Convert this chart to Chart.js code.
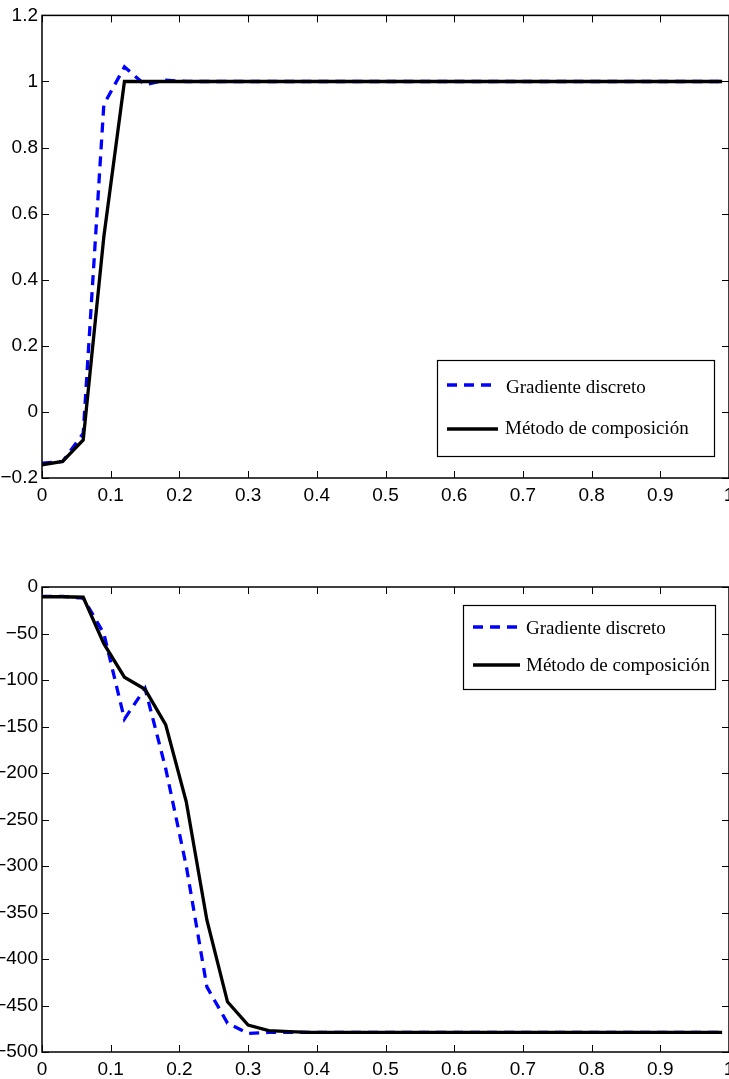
<!DOCTYPE html>
<html>
<head>
<meta charset="utf-8">
<title>Gradiente discreto vs Método de composición</title>
<script src="https://cdn.jsdelivr.net/npm/chart.js@4.4.0/dist/chart.umd.min.js"></script>
<style>
  html, body { margin: 0; padding: 0; background: #fff; overflow: hidden; width: 729px; height: 1079px; }
  canvas { position: absolute; left: 0; }
  #topChart { top: 0; }
  #bottomChart { top: 540px; }
  svg.legend { position: absolute; left: 0; top: 0; overflow: visible; }
  svg.legend text { font-family: "Liberation Serif", "Times New Roman", serif; font-size: 19px; fill: #000; }
</style>
</head>
<body>
<canvas id="topChart" width="780" height="540"></canvas>
<canvas id="bottomChart" width="780" height="539"></canvas>

<svg class="legend" width="729" height="1079">
  <rect x="437.5" y="360.5" width="277" height="96" fill="#fff" stroke="#000" stroke-width="1.2"></rect>
  <line x1="447" y1="385" x2="496" y2="385" stroke="#0000ff" stroke-width="3.3" stroke-dasharray="10 7"></line>
  <text x="506" y="393">Gradiente discreto</text>
  <line x1="447" y1="429" x2="498" y2="429" stroke="#000" stroke-width="3.3"></line>
  <text x="505" y="434">Método de composición</text>

  <rect x="463.5" y="605.5" width="252" height="84" fill="#fff" stroke="#000" stroke-width="1.2"></rect>
  <line x1="473" y1="627" x2="520" y2="627" stroke="#0000ff" stroke-width="3.3" stroke-dasharray="10 7"></line>
  <text x="526" y="634">Gradiente discreto</text>
  <line x1="473" y1="665" x2="520" y2="665" stroke="#000" stroke-width="3.3"></line>
  <text x="526" y="671">Método de composición</text>
</svg>

<script>
// x values shared by both plots
const xs = [0, 0.03, 0.06, 0.09, 0.12, 0.15, 0.18, 0.21, 0.24, 0.27, 0.30, 0.33,
  0.36, 0.39, 0.42, 0.45, 0.48, 0.51, 0.54, 0.57, 0.60, 0.63, 0.66, 0.69,
  0.72, 0.75, 0.78, 0.81, 0.84, 0.87, 0.90, 0.93, 0.96, 0.99];

// upper plot
const topGradiente = [-0.155, -0.15, -0.065, 0.93, 1.044, 0.99, 1.004, 1.0, 1.0, 1.0, 1.0, 1.0,
  1.0, 1.0, 1.0, 1.0, 1.0, 1.0, 1.0, 1.0, 1.0, 1.0, 1.0, 1.0,
  1.0, 1.0, 1.0, 1.0, 1.0, 1.0, 1.0, 1.0, 1.0, 1.0];
const topComposicion = [-0.16, -0.15, -0.085, 0.53, 1.0, 1.0, 1.0, 1.0, 1.0, 1.0, 1.0, 1.0,
  1.0, 1.0, 1.0, 1.0, 1.0, 1.0, 1.0, 1.0, 1.0, 1.0, 1.0, 1.0,
  1.0, 1.0, 1.0, 1.0, 1.0, 1.0, 1.0, 1.0, 1.0, 1.0];

// lower plot
const bottomGradiente = [-10, -10, -12, -50, -142, -109, -195, -300, -430, -469, -480, -479,
  -479, -479, -479, -479, -479, -479, -479, -479, -479, -479, -479, -479,
  -479, -479, -479, -479, -479, -479, -479, -479, -479, -479];
const bottomComposicion = [-10.5, -10.5, -11, -61, -97, -110, -148, -231, -358, -446, -471, -477,
  -478, -479, -479, -479, -479, -479, -479, -479, -479, -479, -479, -479,
  -479, -479, -479, -479, -479, -479, -479, -479, -479, -479];

// tick labels
const xTickLabels = ["0", "0.1", "0.2", "0.3", "0.4", "0.5", "0.6", "0.7", "0.8", "0.9", "1"];
const topYTickLabels = ["\u22120.2", "0", "0.2", "0.4", "0.6", "0.8", "1", "1.2"];
const bottomYTickLabels = ["\u2212500", "\u2212450", "\u2212400", "\u2212350", "\u2212300", "\u2212250",
  "\u2212200", "\u2212150", "\u2212100", "\u221250", "0"];

const tickFont = { family: '"Liberation Sans Narrow", "Liberation Sans", Arial, sans-serif', size: 19 };

const toPoints = function (ys) {
  return xs.map((x, i) => ({ x: x, y: ys[i] }));
};

// matlab style box with inward ticks on all four sides
const boxTicks = {
  id: "boxTicks",
  afterDraw(chart) {
    const ctx = chart.ctx;
    const a = chart.chartArea;
    const len = 7;
    ctx.save();
    ctx.strokeStyle = "#000";
    ctx.lineWidth = 1;
    for (let i = 0; i < chart.scales.x.ticks.length; i++) {
      const px = Math.round(chart.scales.x.getPixelForTick(i)) + 0.5;
      ctx.beginPath();
      ctx.moveTo(px, a.bottom); ctx.lineTo(px, a.bottom - len);
      ctx.moveTo(px, a.top); ctx.lineTo(px, a.top + len);
      ctx.stroke();
    }
    for (let i = 0; i < chart.scales.y.ticks.length; i++) {
      const py = Math.round(chart.scales.y.getPixelForTick(i)) + 0.5;
      ctx.beginPath();
      ctx.moveTo(a.left, py); ctx.lineTo(a.left + len, py);
      ctx.moveTo(a.right, py); ctx.lineTo(a.right - len, py);
      ctx.stroke();
    }
    ctx.lineWidth = 1.5;
    ctx.strokeRect(a.left, a.top, a.right - a.left, a.bottom - a.top);
    ctx.restore();
  }
};

const makeChart = function (id, gradiente, composicion, yMin, yMax, yStep, yLabels, pad, xHeight) {
  const ctx = document.getElementById(id).getContext("2d");
  return new Chart(ctx, {
    type: "line",
    data: {
      datasets: [
        {
          label: "Gradiente discreto",
          data: toPoints(gradiente),
          borderColor: "#0000ff",
          borderWidth: 3.3,
          borderDash: [10, 7],
          pointRadius: 0,
          tension: 0,
          fill: false,
          order: 2
        },
        {
          label: "Método de composición",
          data: toPoints(composicion),
          borderColor: "#000000",
          borderWidth: 3.3,
          borderJoinStyle: "miter",
          pointRadius: 0,
          tension: 0,
          fill: false,
          order: 1
        }
      ]
    },
    options: {
      responsive: false,
      animation: false,
      layout: { padding: pad },
      plugins: { legend: { display: false }, tooltip: { enabled: false } },
      scales: {
        x: {
          type: "linear",
          min: 0,
          max: 1,
          grid: { display: false, drawTicks: false },
          border: { display: false },
          ticks: {
            stepSize: 0.1,
            padding: 6,
            color: "#000",
            font: tickFont,
            maxRotation: 0,
            autoSkip: false,
            callback: (v, i) => xTickLabels[i]
          },
          afterFit: (scale) => { scale.height = xHeight; }
        },
        y: {
          min: yMin,
          max: yMax,
          grid: { display: false, drawTicks: false },
          border: { display: false },
          ticks: {
            stepSize: yStep,
            padding: 4,
            color: "#000",
            font: tickFont,
            autoSkip: false,
            callback: (v, i) => yLabels[i]
          },
          afterFit: (scale) => { scale.width = 42; }
        }
      }
    },
    plugins: [boxTicks]
  });
};

document.addEventListener("DOMContentLoaded", function () {
  makeChart("topChart", topGradiente, topComposicion, -0.2, 1.2, 0.2, topYTickLabels,
    { top: 12, right: 51, bottom: 32, left: 0 }, 30);
  makeChart("bottomChart", bottomGradiente, bottomComposicion, -500, 0, 50, bottomYTickLabels,
    { top: 47, right: 51, bottom: 0, left: 0 }, 27);
});
</script>
</body>
</html>
